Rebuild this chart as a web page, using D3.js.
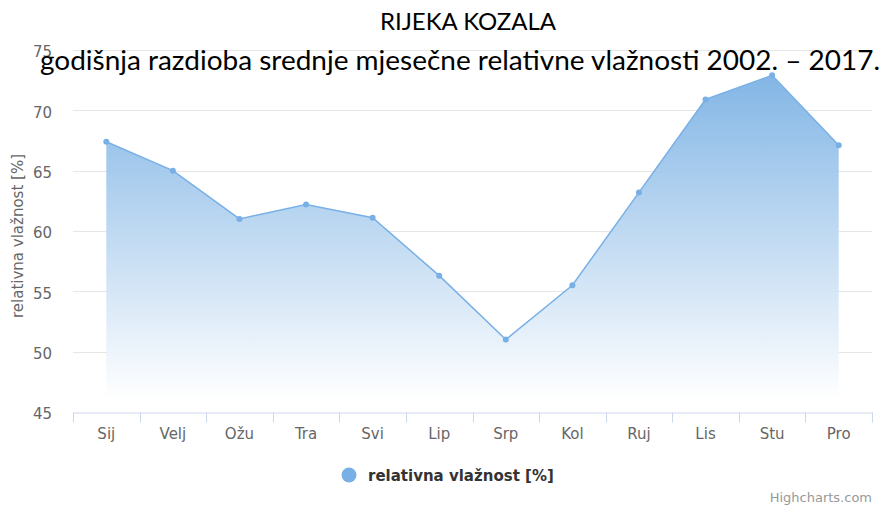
<!DOCTYPE html>
<html>
<head>
<meta charset="utf-8">
<script src="https://cdn.jsdelivr.net/npm/d3@7"></script>
<style>
  body { margin: 0; background: #fff; }
  svg { display: block; }
</style>
</head>
<body>
<svg id="chart" width="884" height="506"></svg>
<script>
var months = ["Sij", "Velj", "Ožu", "Tra", "Svi", "Lip", "Srp", "Kol", "Ruj", "Lis", "Stu", "Pro"];
var humidity = [67.4, 65.0, 61.0, 62.2, 61.1, 56.3, 51.0, 55.5, 63.2, 70.9, 72.9, 67.1];
var yTicks = [45, 50, 55, 60, 65, 70, 75];
var seriesName = "relativna vlažnost [%]";
var titleText = "RIJEKA KOZALA";
var subtitleText = "godišnja razdioba srednje mjesečne relativne vlažnosti 2002. – 2017.";

var svg, margin, x, y, defs, grad, area, line, root, font;
svg = d3.select('#chart');
margin = {left: 73, right: 872, top: 50, bottom: 412};
font = '"DejaVu Sans", Verdana, sans-serif';

x = d3.scaleBand().domain(months).range([margin.left, margin.right]);
y = d3.scaleLinear().domain([45, 75]).range([margin.bottom, margin.top]);

defs = svg.append('defs');
grad = defs.append('linearGradient').attr('id', 'fillGrad')
  .attr('gradientUnits', 'userSpaceOnUse')
  .attr('x1', 0).attr('x2', 0)
  .attr('y1', y(75)).attr('y2', y(46));
grad.append('stop').attr('offset', '0%').attr('stop-color', '#72ace2');
grad.append('stop').attr('offset', '100%').attr('stop-color', '#ffffff');

// grid lines
svg.append('g').selectAll('line.grid').data(yTicks.filter(function(d){ return d > 45; }))
  .enter().append('line').attr('class', 'grid')
  .attr('x1', margin.left).attr('x2', margin.right)
  .attr('y1', function(d){ return Math.round(y(d)) + 0.5; })
  .attr('y2', function(d){ return Math.round(y(d)) + 0.5; })
  .attr('stroke', '#e6e6e6').attr('stroke-width', 1);

root = svg.append('g');
area = d3.area()
  .x(function(d, i){ return x(months[i]) + x.bandwidth() / 2; })
  .y0(y(46)).y1(function(d){ return y(d); });
line = d3.line()
  .x(function(d, i){ return x(months[i]) + x.bandwidth() / 2; })
  .y(function(d){ return y(d); });

root.append('path').attr('d', area(humidity)).attr('fill', 'url(#fillGrad)').attr('opacity', 0.95);
root.append('path').attr('d', line(humidity)).attr('fill', 'none')
  .attr('stroke', '#78b0e6').attr('stroke-width', 1.5);
root.selectAll('circle.pt').data(humidity).enter().append('circle').attr('class', 'pt')
  .attr('cx', function(d, i){ return x(months[i]) + x.bandwidth() / 2; })
  .attr('cy', function(d){ return y(d); })
  .attr('r', 3).attr('fill', '#78b0e6');

// x axis
var xAxis = svg.append('g').attr('transform', 'translate(0,' + (margin.bottom + 0.5) + ')')
  .call(d3.axisBottom(x).tickSize(0).tickPadding(16));
xAxis.select('.domain').attr('stroke', '#ccd6eb');
xAxis.selectAll('text').attr('fill', '#666').style('font-size', '15px').style('font-family', font);
xAxis.selectAll('line.sep').data(months.concat(['end'])).enter().append('line').attr('class', 'sep')
  .attr('x1', function(d, i){ return Math.round(i < 12 ? x(d) : margin.right) + 0.5; })
  .attr('x2', function(d, i){ return Math.round(i < 12 ? x(d) : margin.right) + 0.5; })
  .attr('y1', 0).attr('y2', 10).attr('stroke', '#ccd6eb');

// y axis labels
var yAxis = svg.append('g').attr('transform', 'translate(' + margin.left + ',0)')
  .call(d3.axisLeft(y).tickValues(yTicks).tickSize(0).tickPadding(21));
yAxis.select('.domain').remove();
yAxis.selectAll('text').attr('fill', '#666').style('font-size', '15px').style('font-family', font)
  .attr('dy', '0.45em');

svg.append('text').attr('transform', 'translate(23,236) rotate(-90)')
  .attr('text-anchor', 'middle').attr('fill', '#666')
  .style('font-size', '15px').style('font-family', font)
  .text(seriesName);

// titles
svg.append('text').attr('x', 468).attr('y', 30).attr('text-anchor', 'middle')
  .style('font-size', '24px').style('font-family', 'Lato, "Open Sans", sans-serif').attr('fill', '#000')
  .text(titleText);
svg.append('text').attr('x', 460).attr('y', 70).attr('text-anchor', 'middle')
  .attr('textLength', 840).attr('lengthAdjust', 'spacingAndGlyphs')
  .style('font-size', '26px').style('font-family', 'Lato, "Open Sans", sans-serif').attr('fill', '#000')
  .text(subtitleText);

// legend
var legend = svg.append('g').attr('transform', 'translate(349,475)');
legend.append('circle').attr('r', 7.5).attr('fill', '#78b0e6');
legend.append('text').attr('x', 19).attr('y', 5.5).attr('fill', '#333')
  .style('font-size', '15px').style('font-weight', 'bold').style('font-family', font)
  .text(seriesName);

svg.append('text').attr('x', 872).attr('y', 502).attr('text-anchor', 'end').attr('fill', '#999')
  .style('font-size', '13px').style('font-family', font).text('Highcharts.com');
</script>
</body>
</html>
